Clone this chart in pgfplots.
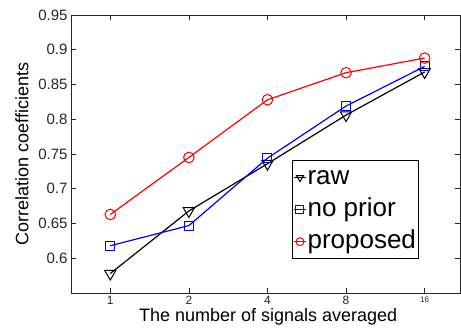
\documentclass[border=0pt]{standalone}
\usepackage{pgfplots}
\pgfplotsset{compat=1.18}
\usepackage{fontspec}
\setmainfont{Liberation Sans}
\definecolor{tickgray}{gray}{0.15}
\begin{document}
\begin{tikzpicture}[x=1pt,y=1pt]
\useasboundingbox (-71pt,-38pt) rectangle (390pt,293pt);
\begin{axis}[
  at={(0,0)}, anchor=south west,
  scale only axis,
  width=389pt, height=278pt,
  xmin=-0.5, xmax=4.45,
  ymin=0.55, ymax=0.95,
  xtick={0,1,2,3,4},
  xticklabels={1,2,4,8,{\fontsize{8}{9}\selectfont 16}},
  ytick={0.6,0.65,0.7,0.75,0.8,0.85,0.9,0.95},
  yticklabels={0.6,0.65,0.7,0.75,0.8,0.85,0.9,0.95},
  yticklabel style={font=\fontsize{15}{17}\selectfont, text=tickgray},
  xticklabel style={font=\fontsize{12}{14}\selectfont, text=tickgray},
  label style={font=\fontsize{18}{20}\selectfont, text=black},
  xlabel={The number of signals averaged},
  ylabel={Correlation coefficients},
  xlabel style={at={(axis description cs:0.507,-0.085)}, anchor=center},
  ylabel style={at={(axis description cs:-0.126,0.5)}, anchor=center},
  tick align=inside,
  major tick length=5pt,
  axis line style={tickgray},
  every tick/.style={tickgray, line width=0.6pt},
  legend style={at={(0.568,0.122)}, anchor=south west, font=\fontsize{26}{28}\selectfont, draw=black, line width=0.8pt, inner sep=1pt, row sep=0pt, cells={anchor=west}, nodes={inner sep=1pt, text height=22pt, text depth=8pt}},
  legend image code/.code={
    \draw[#1, mark size=4pt] (0pt,0pt) -- (12pt,0pt);
    \draw[#1, mark size=4pt, only marks] plot coordinates {(6pt,0pt)};
  },
]
\addplot[black, line width=1.2pt, mark=triangle, mark size=6.5pt, mark options={black, rotate=180, solid, line width=1pt}] coordinates {
(0,0.578) (1,0.668) (2,0.736) (3,0.806) (4,0.868)};
\addlegendentry{raw}
\addplot[blue, line width=1.2pt, mark=square, mark size=4.5pt, mark options={blue, solid, line width=1pt}] coordinates {
(0,0.618) (1,0.647) (2,0.744) (3,0.819) (4,0.876)};
\addlegendentry{no prior}
\addplot[red, line width=1.2pt, mark=o, mark size=5.3pt, mark options={red, solid, line width=1pt}] coordinates {
(0,0.663) (1,0.745) (2,0.828) (3,0.867) (4,0.888)};
\addlegendentry{proposed}
\end{axis}
\end{tikzpicture}
\end{document}
